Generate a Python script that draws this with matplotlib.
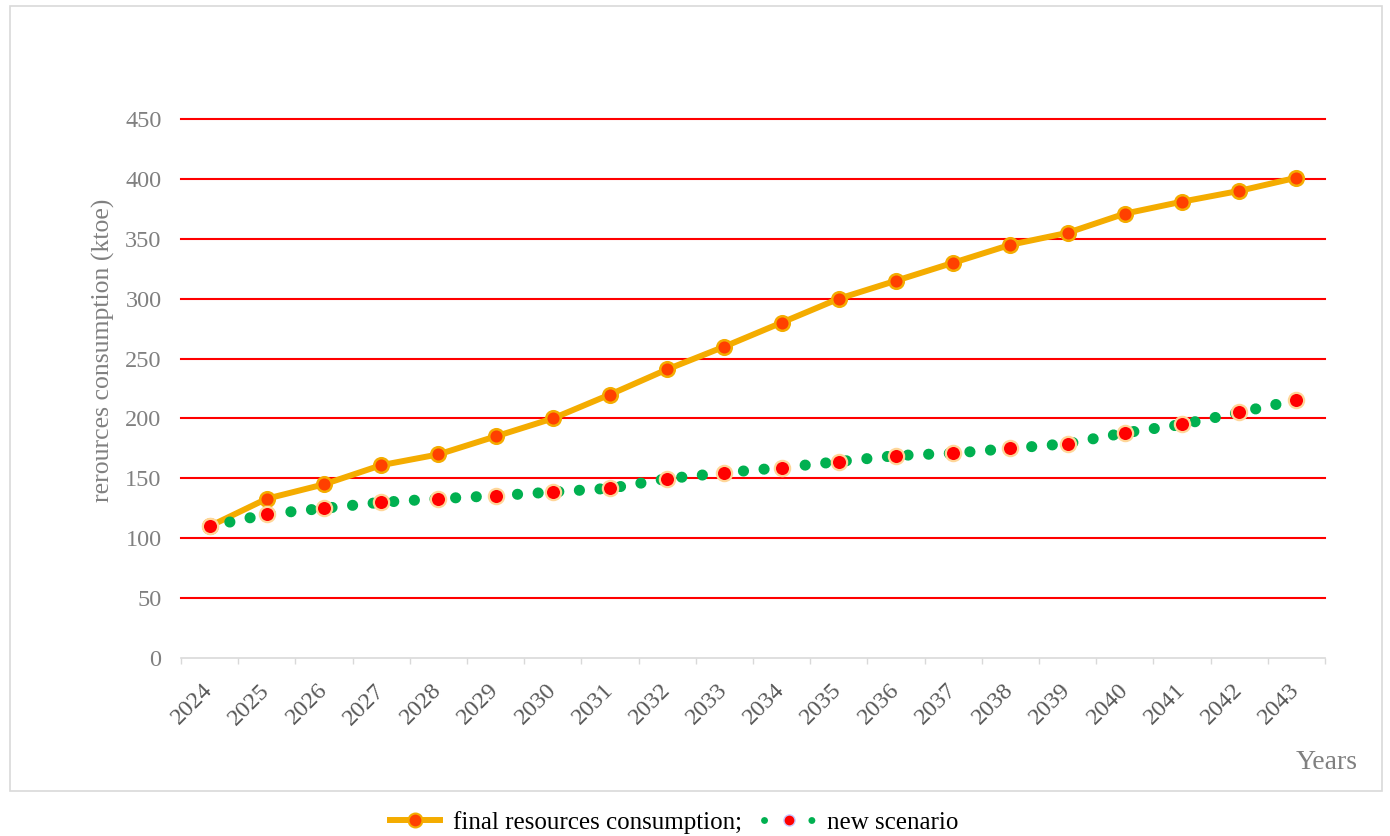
import matplotlib.pyplot as plt
import numpy as np
from matplotlib.lines import Line2D
from matplotlib.patches import Rectangle

# values (ktoe)
years = [str(y) for y in range(2024, 2044)]
final_consumption = [110, 133, 145, 161, 170, 185, 200, 220, 241, 260,
                     280, 300, 315, 330, 345, 355, 371, 381, 390, 401]
new_scenario = [110, 120, 125, 130, 133, 135.5, 138.6, 141.7, 149.7, 154.7,
                159, 164, 169, 171, 175, 179, 188, 195, 205, 215.4]
y_ticks = [0, 50, 100, 150, 200, 250, 300, 350, 400, 450]

serif = ['Liberation Serif', 'DejaVu Serif']
plt.rcParams['font.family'] = serif

gold = '#F4AC00'
green = '#00B050'

fig = plt.figure(figsize=(13.9, 8.36), dpi=100)
fig.patches.append(Rectangle((0.0072, 0.0538), 0.987, 0.939, transform=fig.transFigure,
                             fill=False, edgecolor='#d9d9d9', linewidth=1.2))

ax = fig.add_axes([0.1302, 0.2129, 0.8230, 0.6447])
x = np.arange(len(years))

ax.plot(x, final_consumption, color=gold, linewidth=4.3, marker='o', markersize=10.5,
        markerfacecolor='#FF4000', markeredgecolor=gold, markeredgewidth=1.8, zorder=3)
ax.plot(x, new_scenario, color=green, linewidth=8, linestyle=(0, (0.01, 1.85)),
        dash_capstyle='round', marker='o', markersize=11, markerfacecolor='#FF0000',
        markeredgecolor='#FFD699', markeredgewidth=1.6, zorder=4)

ax.set_xlim(-0.5, len(years) - 0.5)
ax.set_ylim(0, 450)
ax.set_yticks(y_ticks)
ax.set_yticklabels([str(v) for v in y_ticks], fontsize=17.5, color='#808080')
ax.tick_params(axis='y', length=0, pad=14)

ax.set_xticks(x)
ax.set_xticklabels(years, rotation=45, ha='right', va='center', rotation_mode='anchor',
                   fontsize=17.5, color='#595959')
ax.tick_params(axis='x', which='major', length=0, pad=21)
ax.set_xticks(np.arange(-0.5, len(years)), minor=True)
ax.tick_params(axis='x', which='minor', length=4.5, width=1, color='#d9d9d9', direction='out')

ax.grid(axis='y', color='#FF0000', linewidth=1.5)
ax.yaxis.get_gridlines()[0].set_visible(False)
for gl in ax.yaxis.get_gridlines():
    gl.set_clip_on(False)
ax.set_axisbelow(True)
for side in ['top', 'right', 'left']:
    ax.spines[side].set_visible(False)
ax.spines['bottom'].set_color('#d9d9d9')
ax.spines['bottom'].set_linewidth(1.2)

fig.text(0.0741, 0.5813, 'rerources consumption (ktoe)', rotation=90, ha='center',
         va='center', fontsize=18.5, color='#808080')
fig.text(0.977, 0.0885, 'Years', ha='right', va='center', fontsize=20, color='#808080')

handles = [
    Line2D([], [], color=gold, linewidth=4.3, marker='o', markersize=10,
           markerfacecolor='#FF4000', markeredgecolor=gold, markeredgewidth=1.5),
    Line2D([], [], color=green, linewidth=5, linestyle=(0, (0.01, 3.4)),
           dash_capstyle='round', marker='o', markersize=8, markerfacecolor='#FF0000',
           markeredgecolor='#C8C8FF', markeredgewidth=1),
]
fig.legend(handles, ['final resources consumption;', 'new scenario'], loc='center',
           bbox_to_anchor=(0.485, 0.0167), ncol=2, frameon=False, fontsize=18,
           handlelength=2.0, handletextpad=0.5, columnspacing=0.9, numpoints=1)

fig.savefig('out.png', dpi=100)
